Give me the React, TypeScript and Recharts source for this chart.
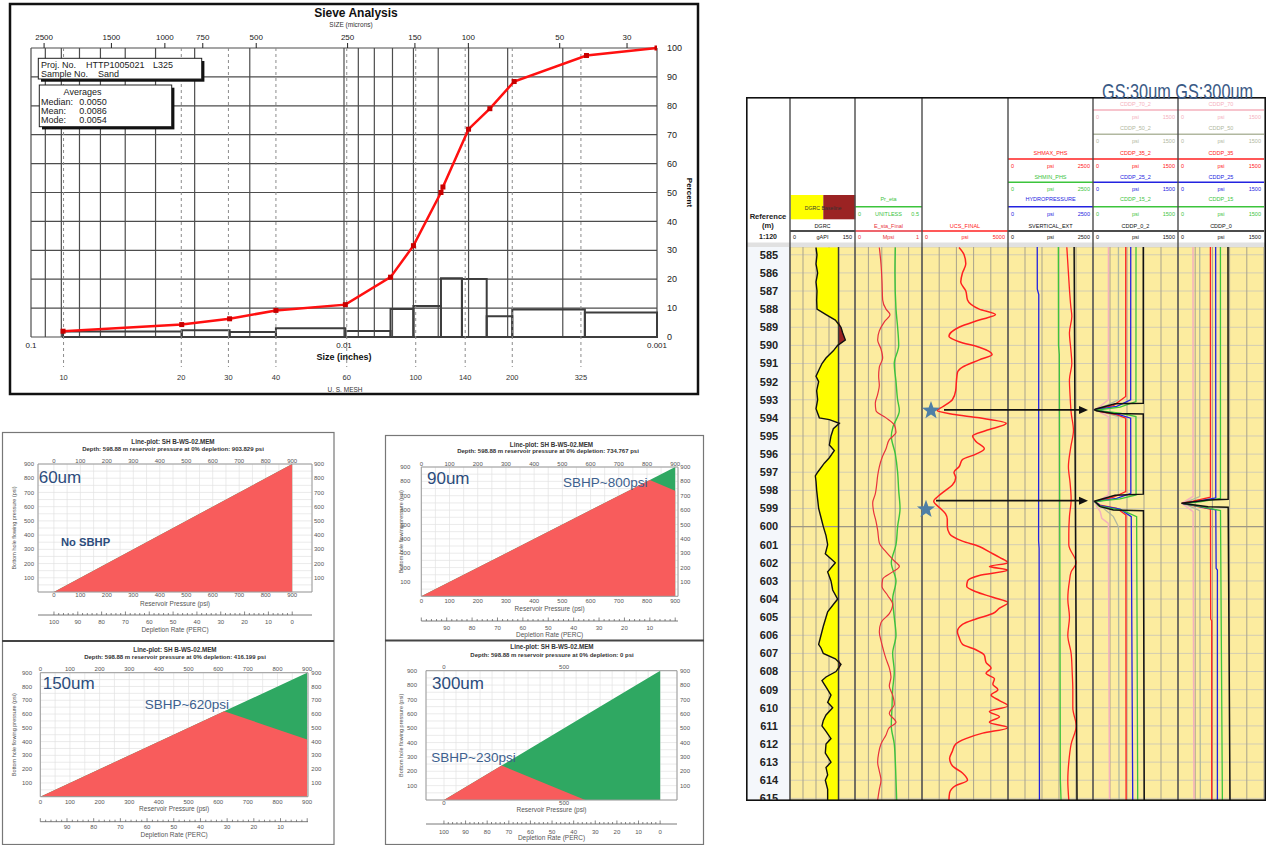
import React from 'react'
import {
  ComposedChart,
  Line,
  Area,
  XAxis,
  YAxis,
  CartesianGrid,
  ReferenceLine,
  ReferenceArea,
} from 'recharts'

const FONT = '"Liberation Sans", Arial, Helvetica, sans-serif'

// ---------------- sieve analysis ----------------
const sieveSizeIn = [0.079, 0.033, 0.0232, 0.0165, 0.0099, 0.0071, 0.006, 0.0049, 0.00483, 0.004, 0.00342, 0.00286, 0.00168, 0.001]
const sievePassing = [2.0, 4.3, 6.3, 9.2, 11.2, 20.7, 31.6, 50.0, 51.9, 71.9, 79.0, 88.4, 97.4, 100]
const retainedEdgesIn = [0.079, 0.033, 0.0232, 0.0165, 0.0099, 0.0071, 0.006, 0.0049, 0.0042, 0.0035, 0.0029, 0.0017, 0.001]
const retainedPct = [1.9, 2.3, 1.7, 3.0, 2.1, 9.7, 10.7, 20.3, 20.1, 7.2, 9.5, 8.5]
const inchGridTicks = [0.1, 0.09, 0.08, 0.07, 0.06, 0.05, 0.04, 0.03, 0.02, 0.01, 0.009, 0.008, 0.007, 0.006, 0.005, 0.004, 0.003, 0.002, 0.001]
const inchLabels = [0.1, 0.01, 0.001]
const micronDomain = [23.9, 2761]
const micronLabels = [2500, 1500, 1000, 750, 500, 250, 150, 100, 50, 30]
const meshLabels = ['10', '20', '30', '40', '60', '100', '140', '200', '325']
const meshSizeIn = [0.0787, 0.0331, 0.0234, 0.0165, 0.0098, 0.0059, 0.0041, 0.0029, 0.00175]
const percentTicks = [0, 10, 20, 30, 40, 50, 60, 70, 80, 90, 100]

// ---------------- line plots (SBHP) ----------------
const pressure60 = [0, 900]
const depletion60 = [100, 0]
const bhp60 = [0, 900]
const sand60 = [0, 900]
const pressure90 = [0, 810, 900]
const depletion90 = [100, 10, 0]
const bhp90 = [0, 810, 900]
const sand90 = [0, 810, 735]
const pressure150 = [0, 620, 900]
const depletion150 = [100, 31.1, 0]
const bhp150 = [0, 620, 900]
const sand150 = [0, 620, 416]
const pressure300 = [0, 240, 588, 900]
const depletion300 = [100, 73.3, 34.7, 0]
const bhp300 = [0, 240, 588, 900]
const sand300 = [0, 240, 0, 0]
const pressureTicks = [0, 100, 200, 300, 400, 500, 600, 700, 800, 900]
const gridTicks50 = Array.from({ length: 19 }, (_, i) => i * 50)
const depletionTicks = Array.from({ length: 51 }, (_, i) => i * 2)
const depletionAll = [0, 10, 20, 30, 40, 50, 60, 70, 80, 90, 100]
const depletionInner = [10, 20, 30, 40, 50, 60, 70, 80, 90]

// ---------------- well log ----------------
const depthTicks = Array.from({ length: 31 }, (_, i) => 585 + i)
const GR_BASE = 112
const grLog: [number, number][] = [
  [584.6, 60], [585.0, 62.3], [585.5, 60], [586.0, 63.8], [586.5, 60], [587.0, 62.3], [587.5, 61.5], [588.0, 62.3],
  [588.3, 83.1], [588.6, 104.6], [589.0, 117.7], [589.3, 121.5], [589.7, 127.7], [590.0, 110], [590.3, 100], [590.7, 83.1],
  [591.0, 73.8], [591.3, 67.7], [591.7, 60], [592.0, 66.1], [592.5, 61.5], [593.0, 63.8], [593.5, 60], [594.0, 67.7],
  [594.1, 90.8], [594.3, 113.8], [594.6, 100], [595.0, 94.6], [595.5, 90.8], [595.8, 102.3], [596.2, 90.8], [596.5, 79.2],
  [597.0, 63.8], [597.2, 58.5], [597.5, 60], [598.0, 61.5], [598.5, 63.8], [599.0, 66.1], [599.5, 71.5], [600.0, 76.9],
  [600.5, 83.1], [601.0, 86.9], [601.5, 81.5], [602.0, 104.6], [602.5, 86.9], [603.0, 94.6], [603.5, 98.5], [604.0, 110],
  [604.3, 100], [604.7, 86.9], [605.0, 83.1], [605.5, 76.9], [606.0, 71.5], [606.5, 66.1], [606.7, 71.5], [607.0, 76.9],
  [607.3, 104.6], [607.6, 117.7], [608.0, 106.2], [608.3, 83.1], [608.5, 73.8], [609.0, 86.9], [609.3, 94.6], [609.7, 86.9],
  [610.0, 98.5], [610.4, 83.1], [610.7, 76.9], [611.0, 73.8], [611.3, 83.1], [611.7, 94.6], [612.0, 83.1], [612.5, 81.5],
  [613.0, 94.6], [613.3, 83.1], [613.7, 86.9], [614.0, 81.5], [614.5, 86.9], [615.1, 86.9],
]
const eStaFinal: [number, number][] = [
  [584.6, 0.363], [585.5, 0.388], [586.5, 0.403], [587.5, 0.413], [588.0, 0.463], [588.3, 0.522], [588.7, 0.438], [589.2, 0.363],
  [589.7, 0.338], [590.2, 0.388], [590.7, 0.413], [591.2, 0.363], [591.7, 0.353], [592.2, 0.363], [592.7, 0.338], [593.2, 0.303],
  [593.6, 0.313], [594.0, 0.463], [594.4, 0.587], [594.8, 0.612], [595.2, 0.512], [595.7, 0.463], [596.2, 0.403], [596.7, 0.363],
  [597.2, 0.338], [597.7, 0.323], [598.2, 0.303], [598.7, 0.264], [599.2, 0.279], [599.7, 0.313], [600.2, 0.338], [600.9, 0.363],
  [601.4, 0.463], [601.9, 0.587], [602.2, 0.662], [602.5, 0.562], [602.9, 0.413], [603.3, 0.403], [603.8, 0.488], [604.3, 0.562],
  [604.8, 0.512], [605.3, 0.388], [605.8, 0.363], [606.3, 0.388], [606.8, 0.423], [607.3, 0.463], [607.8, 0.512], [608.3, 0.537],
  [608.8, 0.512], [609.3, 0.562], [609.8, 0.587], [610.3, 0.512], [610.8, 0.612], [611.1, 0.512], [611.5, 0.463], [612.0, 0.388],
  [612.5, 0.353], [613.0, 0.338], [613.5, 0.363], [614.0, 0.388], [614.5, 0.363], [615.1, 0.338],
]
const prEta: [number, number][] = [
  [584.6, 0.301], [586.0, 0.298], [588.0, 0.306], [589.0, 0.318], [590.0, 0.326], [591.0, 0.293], [592.0, 0.306], [593.0, 0.318],
  [593.6, 0.331], [594.5, 0.283], [595.0, 0.271], [596.0, 0.301], [597.0, 0.318], [598.0, 0.326], [599.0, 0.336], [600.0, 0.318],
  [601.0, 0.306], [602.0, 0.271], [603.0, 0.306], [604.0, 0.281], [605.0, 0.293], [606.0, 0.306], [607.0, 0.281], [608.0, 0.293],
  [609.0, 0.281], [610.0, 0.276], [611.0, 0.271], [612.0, 0.293], [613.0, 0.301], [614.0, 0.306], [615.1, 0.311],
]
const ucsFinal: [number, number][] = [
  [584.6, 2153], [585.0, 2447], [585.5, 2547], [586.0, 2353], [586.5, 2253], [587.0, 2547], [587.5, 2647], [588.0, 3329],
  [588.3, 4271], [588.6, 3329], [589.0, 2153], [589.5, 1565], [589.8, 2153], [590.1, 3329], [590.5, 4076], [590.8, 3329],
  [591.2, 2353], [591.5, 2059], [592.0, 2000], [592.5, 1959], [593.0, 1765], [593.4, 1176], [593.6, 882], [593.8, 1765],
  [594.0, 3329], [594.3, 4900], [594.7, 3724], [595.0, 2941], [595.3, 3135], [595.7, 3624], [596.0, 3135], [596.3, 2353],
  [596.7, 2153], [597.0, 1859], [597.3, 1959], [597.7, 1765], [598.0, 1371], [598.3, 976], [598.6, 682], [599.0, 1076],
  [599.3, 1371], [599.6, 1471], [600.0, 1471], [600.4, 1606], [600.8, 2353], [601.1, 3329], [601.4, 3918], [601.7, 4506],
  [602.0, 5000], [602.2, 3918], [602.4, 5000], [602.7, 3329], [603.0, 2647], [603.3, 2600], [603.6, 3135], [603.9, 4118],
  [604.2, 5000], [604.5, 4506], [604.8, 4118], [605.1, 3135], [605.4, 2353], [605.8, 2059], [606.1, 2153], [606.5, 2353],
  [606.8, 3135], [607.1, 3624], [607.5, 3724], [607.8, 4018], [608.1, 3724], [608.4, 4212], [608.7, 4118], [609.0, 4412],
  [609.3, 4018], [609.6, 4506], [609.9, 5000], [610.2, 3918], [610.5, 4506], [610.8, 3918], [611.1, 5000], [611.4, 3530],
  [611.7, 2547], [612.0, 1959], [612.4, 1765], [612.8, 1606], [613.2, 1765], [613.6, 2353], [614.0, 2647], [614.3, 1959],
  [614.7, 1606], [615.1, 1565],
]
const hydroPressure: [number, number][] = [[584.57, 860], [586.9, 862], [587.2, 905], [600.8, 900], [601.2, 915], [615.09, 925]]
const shminPhs: [number, number][] = [[584.57, 1480], [590.0, 1485], [590.5, 1510], [614.0, 1540], [615.09, 1560]]
const shmaxPhs: [number, number][] = [
  [584.58, 1730], [586.0, 1777], [586.9, 1807], [587.85, 1847], [588.4, 1877], [589.3, 1807], [590.2, 1847], [591.0, 1877],
  [591.9, 1807], [592.8, 1827], [593.7, 1857], [594.7, 1925], [595.6, 1847], [596.7, 1777], [597.6, 1827], [598.5, 1857],
  [599.45, 1807], [600.4, 1788], [601.0, 1788], [602.0, 2005], [602.5, 1857], [603.0, 1808], [604.0, 1759], [605.0, 1808],
  [606.0, 1759], [607.0, 1857], [608.0, 1887], [609.0, 1906], [610.0, 1906], [611.0, 2005], [612.0, 1857], [613.0, 1788],
  [614.0, 1759], [615.09, 1788],
]
const sVerticalExt: [number, number][] = [[584.57, 1945], [600.0, 1985], [615.09, 2030]]

const cddp70_2: [number, number][] = [[584.57, 273], [593.0, 272], [593.37, 126], [593.52, 39], [593.69, 126], [593.93, 272], [598.25, 273], [598.53, 126], [598.64, 39], [598.9, 68], [599.17, 126], [599.54, 155], [599.82, 272], [615.09, 291]]
const cddp50_2: [number, number][] = [[584.57, 449], [593.0, 448], [593.3, 250], [593.54, 39], [593.75, 250], [593.93, 448], [598.25, 448], [598.53, 185], [598.64, 39], [598.99, 185], [599.45, 360], [600.0, 448], [615.09, 460]]
const cddp35_2: [number, number][] = [[584.57, 578], [592.82, 577], [593.32, 360], [593.48, 126], [593.56, 29], [593.65, 126], [593.8, 389], [594.02, 577], [598.07, 578], [598.38, 360], [598.58, 68], [598.62, 29], [598.81, 126], [598.99, 419], [599.36, 580], [615.09, 584]]
const cddp25_2: [number, number][] = [[584.57, 666], [593.0, 665], [593.37, 419], [593.56, 30], [593.78, 419], [594.02, 665], [598.16, 668], [598.44, 419], [598.62, 30], [598.84, 126], [599.04, 478], [599.45, 675], [615.09, 701]]
const cddp15_2: [number, number][] = [[584.57, 759], [593.1, 758], [593.41, 478], [593.58, 30], [593.74, 478], [593.93, 758], [598.25, 760], [598.47, 478], [598.62, 30], [598.86, 100], [599.12, 530], [599.45, 770], [615.09, 789]]
const cddp0_2: [number, number][] = [[584.57, 887], [593.19, 887], [593.22, 389], [593.52, 40], [593.56, 28], [593.61, 60], [593.76, 360], [593.78, 887], [598.21, 888], [598.27, 389], [598.6, 28], [598.9, 126], [599.08, 360], [599.12, 890], [615.09, 904]]

const cddp70: [number, number][] = [[584.57, 262], [598.34, 263], [598.56, 146], [598.71, 70], [598.9, 146], [599.17, 263], [615.09, 279]]
const cddp50: [number, number][] = [[584.57, 379], [598.34, 379], [598.71, 88], [599.12, 379], [615.09, 390]]
const cddp35: [number, number][] = [[584.57, 565], [598.38, 566], [598.6, 263], [598.71, 70], [598.84, 263], [599.04, 566], [605.1, 570], [605.2, 588], [615.09, 588]]
const cddp25: [number, number][] = [[584.57, 657], [598.42, 659], [598.62, 321], [598.73, 88], [598.86, 321], [599.08, 659], [602.3, 665], [602.4, 687], [615.09, 687]]
const cddp15: [number, number][] = [[584.57, 740], [598.45, 741], [598.64, 379], [598.73, 100], [598.88, 379], [599.12, 741], [615.09, 774]]
const cddp0: [number, number][] = [[584.57, 872], [598.49, 875], [598.53, 525], [598.71, 59], [598.9, 525], [598.93, 875], [615.09, 907]]

const COL = { red: '#ff2020', green: '#3cc43c', blue: '#2323e0', black: '#111111', pink: '#f5b1bd', gray: '#b1b8a0' }

const LOG_D0 = 584.57
const LOG_D1 = 615.09
const LOG_TOP = 247
const LOG_H = 553
const depthToY = (d: number) => LOG_TOP + ((d - LOG_D0) / (LOG_D1 - LOG_D0)) * LOG_H

const toPts = (a: [number, number][]) => a.map(([d, v]) => ({ d, v }))

// ---------------- helpers ----------------
function SquareDot(p: any) {
  if (p.cx == null || p.cy == null) return <g key={p.key} />
  return <rect key={p.key} x={p.cx - 2.5} y={p.cy - 2.5} width={5} height={5} fill="#c80000" />
}

function MeshLine(p: any) {
  const top = Math.min(p.y1, p.y2)
  const bot = Math.max(p.y1, p.y2)
  return <line x1={p.x1} x2={p.x2} y1={top} y2={bot + 30} stroke="#8c8c8c" strokeWidth={1} strokeDasharray="3 3" />
}

function T(props: any) {
  const { x, y, s = 6, c = '#222', w = 400, a = 'middle', children } = props
  return (
    <text x={x} y={y} fontSize={s} fill={c} fontWeight={w} textAnchor={a} dominantBaseline="central" fontFamily={FONT}>
      {children}
    </text>
  )
}

function SieveChart() {
  const data = sieveSizeIn.map((s, i) => ({ size: s, micron: s * 25400, pass: sievePassing[i] }))
  return (
    <div style={{ position: 'absolute', left: 10, top: 4 }}>
      <ComposedChart width={688} height={390} data={data} margin={{ top: 30, right: 0, bottom: 37, left: 21 }}>
        <CartesianGrid xAxisId="b" yAxisId="p" stroke="#4d4d4d" strokeWidth={1.2} />
        <XAxis
          xAxisId="b"
          dataKey="size"
          type="number"
          scale="log"
          domain={[0.001, 0.1]}
          reversed
          allowDataOverflow
          ticks={inchGridTicks}
          interval={0}
          tickFormatter={(v: number) => (inchLabels.includes(v) ? String(v) : '')}
          tickLine={false}
          tickSize={0}
          axisLine={false}
          height={20}
          tickMargin={5}
          tick={{ fontSize: 8, fill: '#222', fontFamily: FONT }}
          label={{ value: 'Size (inches)', position: 'bottom', offset: -3, fontSize: 9, fontWeight: 700, fill: '#111' }}
        />
        <XAxis
          xAxisId="t"
          orientation="top"
          dataKey="micron"
          type="number"
          scale="log"
          domain={micronDomain}
          reversed
          allowDataOverflow
          ticks={micronLabels}
          interval={0}
          tickSize={5}
          tickMargin={3}
          height={14}
          axisLine={false}
          tickLine={{ stroke: '#222' }}
          tick={{ fontSize: 8, fill: '#222', fontFamily: FONT }}
        />
        <YAxis
          yAxisId="p"
          orientation="right"
          type="number"
          domain={[0, 100]}
          ticks={percentTicks}
          interval={0}
          width={41}
          tickLine={false}
          tickSize={0}
          axisLine={false}
          tickMargin={10}
          tick={{ fontSize: 9, fill: '#222', fontFamily: FONT }}
          label={{ value: 'Percent', angle: 90, position: 'center', dx: 12, fontSize: 8, fontWeight: 700, fill: '#111' }}
        />
        {meshSizeIn.map((m, i) => (
          <ReferenceLine
            key={'mesh' + i}
            xAxisId="b"
            yAxisId="p"
            x={m}
            stroke="#8c8c8c"
            strokeDasharray="3 3"
            shape={MeshLine}
            label={{ value: meshLabels[i], position: 'bottom', offset: 38, fontSize: 7.5, fill: '#333' }}
          />
        ))}
        {retainedPct.map((h, i) => (
          <ReferenceArea
            key={'bin' + i}
            xAxisId="b"
            yAxisId="p"
            x1={retainedEdgesIn[i]}
            x2={retainedEdgesIn[i + 1]}
            y1={0}
            y2={h}
            fill="none"
            fillOpacity={0}
            stroke="#3d3d3d"
            strokeWidth={2}
            ifOverflow="visible"
          />
        ))}
        <Line
          xAxisId="b"
          yAxisId="p"
          dataKey="pass"
          type="linear"
          stroke="#ff1010"
          strokeWidth={2.5}
          dot={SquareDot}
          activeDot={false}
          isAnimationActive={false}
        />
      </ComposedChart>
    </div>
  )
}

function DepTick(props: any) {
  const { x, y, payload, labels, labelDy } = props
  const v = payload.value as number
  const major = v % 10 === 0
  return (
    <g>
      <line x1={x} x2={x} y1={y} y2={y - (major ? 3.5 : 2)} stroke="#555" strokeWidth={0.7} />
      {major && labels.includes(v) ? (
        <text x={x} y={y + labelDy} textAnchor="middle" dominantBaseline="central" fontSize={6} fill="#555" fontFamily={FONT}>
          {v}
        </text>
      ) : null}
    </g>
  )
}

function LinePlot({ s }: { s: any }) {
  const rows = s.pressure.map((p: number, i: number) => ({ p, dep: s.depletion[i], bhp: s.bhp[i], sand: s.sand[i] }))
  const fmtP = (v: number) => (s.pLabels.includes(v) ? String(v) : '')
  const fmtY = (v: number) => (v > 0 && v % 100 === 0 ? String(v) : '')
  const tickStyle = { fontSize: 6, fill: '#555', fontFamily: FONT }
  return (
    <div style={{ position: 'absolute', left: s.left, top: s.top }}>
      <ComposedChart width={s.width} height={s.height} data={rows} margin={s.margin}>
        <CartesianGrid xAxisId="a" yAxisId="l" stroke="#e2e2e2" strokeWidth={0.7} />
        <XAxis
          xAxisId="z"
          dataKey="dep"
          type="number"
          domain={s.depDomain}
          reversed
          allowDataOverflow
          ticks={depletionTicks}
          interval={0}
          tickLine={false}
          tickSize={0}
          tickMargin={0}
          axisLine={{ stroke: '#555', strokeWidth: 0.8 }}
          height={s.depAxisH}
          tick={<DepTick labels={s.depLabels} labelDy={s.depDy} />}
          label={{ value: 'Depletion Rate (PERC)', position: 'insideBottom', offset: s.depTitleOff, fontSize: 6.5, fill: '#555' }}
        />
        <XAxis
          xAxisId="a"
          dataKey="p"
          type="number"
          domain={s.xDomain}
          allowDataOverflow
          ticks={gridTicks50}
          interval={0}
          tickFormatter={fmtP}
          tickLine={false}
          tickSize={0}
          axisLine={false}
          height={s.pAxisH}
          tickMargin={s.botM}
          tick={tickStyle}
          label={{ value: 'Reservoir Pressure (psi)', position: 'insideBottom', offset: s.pTitleOff, fontSize: 6.5, fill: '#555' }}
        />
        <XAxis
          xAxisId="pt"
          orientation="top"
          dataKey="p"
          type="number"
          domain={s.xDomain}
          allowDataOverflow
          ticks={s.pLabels}
          interval={0}
          tickLine={false}
          tickSize={0}
          axisLine={false}
          height={10}
          tickMargin={1.5}
          tick={tickStyle}
        />
        <YAxis
          yAxisId="l"
          type="number"
          domain={[0, 900]}
          allowDataOverflow
          ticks={gridTicks50}
          interval={0}
          tickFormatter={fmtY}
          width={24}
          tickLine={false}
          tickSize={0}
          axisLine={false}
          tickMargin={s.lm}
          tick={tickStyle}
          label={{ value: 'Bottom hole flowing pressure (psi)', angle: -90, position: 'center', dx: s.ytDx, fontSize: 5.5, fill: '#555' }}
        />
        <YAxis
          yAxisId="r"
          orientation="right"
          type="number"
          domain={[0, 900]}
          allowDataOverflow
          ticks={pressureTicks.slice(1)}
          interval={0}
          width={20}
          tickLine={false}
          tickSize={0}
          axisLine={false}
          tickMargin={s.rm}
          tick={tickStyle}
        />
        <Area xAxisId="a" yAxisId="l" dataKey="bhp" type="linear" baseValue={0} fill="#2fa862" fillOpacity={1} stroke="none" isAnimationActive={false} />
        <Area xAxisId="a" yAxisId="l" dataKey="sand" type="linear" baseValue={0} fill="#f85c5c" fillOpacity={1} stroke="none" isAnimationActive={false} />
        <ReferenceArea xAxisId="a" yAxisId="l" x1={s.xDomain[0]} x2={s.xDomain[1]} y1={0} y2={900} fill="none" fillOpacity={0} stroke="#9a9a9a" strokeWidth={1} />
      </ComposedChart>
    </div>
  )
}

const lpA = {
  left: 2, top: 452, width: 334, height: 186, margin: { top: 2, right: 4, bottom: 0, left: 12 },
  xDomain: [-60, 975], depDomain: [-8.3, 106.7], pLabels: pressureTicks, depLabels: depletionAll,
  lm: 4, rm: 2, ytDx: -12.3, botM: 1, pAxisH: 23, depAxisH: 23, pTitleOff: 9.3, depTitleOff: 6, depDy: 7,
  pressure: pressure60, depletion: depletion60, bhp: bhp60, sand: sand60,
}
const lpB = {
  left: 386, top: 455, width: 316, height: 184, margin: { top: 2, right: 4, bottom: 0, left: 11.3 },
  xDomain: [0, 910], depDomain: [-1.1, 100], pLabels: pressureTicks, depLabels: depletionInner,
  lm: 11, rm: 2.3, ytDx: -8, botM: 2, pAxisH: 24.7, depAxisH: 18, pTitleOff: 10, depTitleOff: 2, depDy: 6.7,
  pressure: pressure90, depletion: depletion90, bhp: bhp90, sand: sand90,
}
const lpC = {
  left: 2, top: 660, width: 334, height: 183, margin: { top: 2.7, right: 8, bottom: 0, left: 14.3 },
  xDomain: [0, 903], depDomain: [-0.3, 100], pLabels: pressureTicks, depLabels: depletionInner,
  lm: 8.3, rm: 3.3, ytDx: -14.6, botM: 3, pAxisH: 25, depAxisH: 21.3, pTitleOff: 10.4, depTitleOff: 6, depDy: 5,
  pressure: pressure150, depletion: depletion150, bhp: bhp150, sand: sand150,
}
const lpD = {
  left: 386, top: 658, width: 316, height: 186, margin: { top: 2.7, right: 5, bottom: 0, left: 16 },
  xDomain: [-75, 970], depDomain: [-7.8, 108.3], pLabels: [0, 500], depLabels: depletionAll,
  lm: 9, rm: 3, ytDx: -12.7, botM: 1, pAxisH: 24, depAxisH: 20, pTitleOff: 11.7, depTitleOff: 3.7, depDy: 7.7,
  pressure: pressure300, depletion: depletion300, bhp: bhp300, sand: sand300,
}

type Curve = { pts: [number, number][]; color: string; w?: number; smooth?: boolean; axis?: string }

function Track(props: { x0: number; x1: number; domain: [number, number]; grid: number[]; curves: Curve[]; alt?: [number, number]; gr?: boolean }) {
  const { x0, x1, domain, grid, curves, alt, gr } = props
  const left = gr ? 747 : x0
  const width = x1 - left
  const grPts = toPts(grLog)
  return (
    <div style={{ position: 'absolute', left, top: LOG_TOP, width, height: LOG_H, background: gr ? '#f4f7fb' : undefined }}>
      <ComposedChart layout="vertical" width={width} height={LOG_H} margin={{ top: 0, right: 0, bottom: 0, left: 0 }}>
        <CartesianGrid vertical={false} fill="#fcec9f" fillOpacity={1} stroke="#d3cdb3" strokeWidth={1} />
        <CartesianGrid horizontal={false} stroke="#a9a38c" strokeWidth={1} />
        <XAxis type="number" domain={domain} ticks={grid} interval={0} hide allowDataOverflow />
        {alt ? <XAxis xAxisId="alt" type="number" domain={alt} hide allowDataOverflow /> : null}
        <YAxis
          type="number"
          dataKey="d"
          domain={[LOG_D0, LOG_D1]}
          ticks={depthTicks}
          interval={0}
          allowDataOverflow
          hide={!gr}
          width={43}
          tickLine={false}
          axisLine={false}
          tickSize={0}
          tickMargin={21}
          tick={{ fontSize: 11, fontWeight: 700, fill: '#222', textAnchor: 'middle', fontFamily: FONT }}
        />
        <ReferenceLine y={600} stroke="#9e9884" strokeWidth={1.2} />
        {gr ? (
          <Area data={grPts} dataKey={(r: any) => Math.min(r.v, GR_BASE)} baseValue={GR_BASE} type="linear" fill="#ffff00" fillOpacity={1} stroke="none" isAnimationActive={false} />
        ) : null}
        {gr ? (
          <Area data={grPts} dataKey={(r: any) => Math.max(r.v, GR_BASE)} baseValue={GR_BASE} type="linear" fill="#992222" fillOpacity={1} stroke="none" isAnimationActive={false} />
        ) : null}
        {gr ? <ReferenceLine x={GR_BASE} stroke="#3a3a3a" strokeWidth={1.5} /> : null}
        {curves.map((c, i) => (
          <Line
            key={i}
            xAxisId={c.axis ?? 0}
            data={toPts(c.pts)}
            dataKey="v"
            type={c.smooth ? 'monotone' : 'linear'}
            stroke={c.color}
            strokeWidth={c.w ?? 1.3}
            dot={false}
            activeDot={false}
            isAnimationActive={false}
          />
        ))}
      </ComposedChart>
    </div>
  )
}

const HEAD_ROWS = [
  [104, 110, 116.7],
  [128.3, 134.3, 141],
  [152.7, 159, 166],
  [176.7, 182.3, 188.7],
  [199.3, 206.7, 214],
  [225.7, 231, 236.7],
]

function CurveHead({ x0, x1, row, name, color, unit, max }: any) {
  const [ny, ly, sy] = HEAD_ROWS[row]
  const cx = (x0 + x1) / 2
  return (
    <g>
      <T x={cx} y={ny} s={5.5} c={color}>{name}</T>
      <line x1={x0} x2={x1} y1={ly} y2={ly} stroke={color} strokeWidth={1.6} />
      <T x={x0 + 3} y={sy} s={5.5} c={color} a="start">0</T>
      <T x={cx} y={sy} s={5.5} c={color}>{unit}</T>
      <T x={x1 - 3} y={sy} s={5.5} c={color} a="end">{max}</T>
    </g>
  )
}

function starPoints(cx: number, cy: number, r: number) {
  const pts: string[] = []
  for (let i = 0; i < 10; i++) {
    const rr = i % 2 === 0 ? r : r * 0.42
    const a = -Math.PI / 2 + (i * Math.PI) / 5
    pts.push(`${cx + rr * Math.cos(a)},${cy + rr * Math.sin(a)}`)
  }
  return pts.join(' ')
}

const trackX = [790, 855, 922, 1008, 1093, 1178, 1264]
const cddpNames = ['CDDP_70', 'CDDP_50', 'CDDP_35', 'CDDP_25', 'CDDP_15', 'CDDP_0']
const cddpColors = [COL.pink, COL.gray, COL.red, COL.blue, COL.green, COL.black]
const stars = [{ d: 593.6, x: 931 }, { d: 599.05, x: 926 }]
const arrows = [{ d: 593.56, x0: 944, x1: 1088 }, { d: 598.57, x0: 936, x1: 1088 }]

function Overlay() {
  const depthLine = (v: string) => `Depth: 598.88 m reservoir pressure at 0% depletion: ${v} psi`
  const um = { s: 17, c: '#2c4c7c', a: 'start' }
  const sb = { s: 13.5, c: '#3d5f8e', a: 'start' }
  return (
    <svg width={1266} height={845} style={{ position: 'absolute', left: 0, top: 0, pointerEvents: 'none' }}>
      {/* sieve frame and texts */}
      <rect x={10} y={4} width={688} height={390} fill="none" stroke="#111" strokeWidth={2.5} />
      <T x={356} y={13} s={12} w={700} c="#111">Sieve Analysis</T>
      <T x={351} y={24.5} s={6.5} c="#333">SIZE (microns)</T>
      <T x={345} y={389} s={6.5} c="#333">U. S. MESH</T>
      <rect x={41} y={61} width={163.4} height={20.7} fill="#111" />
      <rect x={38.3} y={58.3} width={163.4} height={20.7} fill="#fff" stroke="#222" strokeWidth={1} />
      <T x={41} y={65} s={9} a="start">Proj. No.</T>
      <T x={86} y={65} s={9} a="start">HTTP1005021</T>
      <T x={153} y={65} s={9} a="start">L325</T>
      <T x={41} y={74.3} s={9} a="start">Sample No.</T>
      <T x={98} y={74.3} s={9} a="start">Sand</T>
      <rect x={42} y={87.7} width={132.4} height={41.7} fill="#111" />
      <rect x={39.3} y={85} width={132.4} height={41.7} fill="#fff" stroke="#222" strokeWidth={1} />
      <T x={82.5} y={91.5} s={9}>Averages</T>
      <T x={41} y={101.7} s={9} a="start">Median:</T>
      <T x={79.3} y={101.7} s={9} a="start">0.0050</T>
      <T x={41} y={111} s={9} a="start">Mean:</T>
      <T x={79.3} y={111} s={9} a="start">0.0086</T>
      <T x={41} y={120.2} s={9} a="start">Mode:</T>
      <T x={79.3} y={120.2} s={9} a="start">0.0054</T>

      {/* line-plot frames */}
      <rect x={2.5} y={432.5} width={331.5} height={412} fill="none" stroke="#777" strokeWidth={1.2} />
      <line x1={2} x2={334} y1={641} y2={641} stroke="#444" strokeWidth={2} />
      <rect x={385.5} y={435.5} width={318} height={409} fill="none" stroke="#777" strokeWidth={1.2} />
      <line x1={385} x2={704} y1={640.5} y2={640.5} stroke="#444" strokeWidth={2} />

      <T x={173} y={441} s={6.3} w={700} c="#333">Line-plot: SH B-WS-02.MEM</T>
      <T x={173} y={449} s={6} w={700} c="#333">{depthLine('903.829')}</T>
      <T x={38.7} y={477} {...um}>60um</T>
      <T x={61} y={542} s={11.2} w={700} c="#2c4c7c" a="start">No SBHP</T>

      <T x={551.5} y={444.7} s={6.3} w={700} c="#333">Line-plot: SH B-WS-02.MEM</T>
      <T x={548} y={451.3} s={6} w={700} c="#333">{depthLine('734.767')}</T>
      <T x={427} y={478.7} {...um}>90um</T>
      <T x={563} y={482.7} {...sb}>SBHP~800psi</T>

      <T x={175} y={649.3} s={6.3} w={700} c="#333">Line-plot: SH B-WS-02.MEM</T>
      <T x={175} y={656.7} s={6} w={700} c="#333">{depthLine('416.199')}</T>
      <T x={42.7} y={683.3} {...um}>150um</T>
      <T x={144.7} y={704.3} {...sb}>SBHP~620psi</T>

      <T x={552} y={646.7} s={6.3} w={700} c="#333">Line-plot: SH B-WS-02.MEM</T>
      <T x={552} y={655} s={6} w={700} c="#333">{depthLine('0')}</T>
      <T x={432} y={683.3} {...um}>300um</T>
      <T x={431.3} y={757.3} {...sb}>SBHP~230psi</T>

      {/* well log header */}
      <rect x={746.5} y={242.5} width={519} height={4.5} fill="#e1e1e1" />
      <T x={768} y={216.7} s={7.6} w={700}>Reference</T>
      <T x={768} y={225.5} s={7.6} w={700}>(m)</T>
      <T x={768} y={236} s={7} w={700}>1:120</T>
      <rect x={790.7} y={195} width={32.6} height={24.3} fill="#ffff00" />
      <rect x={823.3} y={195} width={32} height={24.3} fill="#9b2323" />
      <T x={823} y={207.5} s={5.2} c="#333">DGRC Baseline</T>
      <CurveHead x0={790} x1={855} row={5} name="DGRC" color={COL.black} unit="gAPI" max="150" />
      <CurveHead x0={855} x1={922} row={4} name="Pr_eta" color={COL.green} unit="UNITLESS" max="0.5" />
      <CurveHead x0={855} x1={922} row={5} name="E_sta_Final" color="#e8323c" unit="Mpsi" max="1" />
      <CurveHead x0={922} x1={1008} row={5} name="UCS_FINAL" color={COL.red} unit="psi" max="5000" />
      <CurveHead x0={1008} x1={1093} row={2} name="SHMAX_PHS" color={COL.red} unit="psi" max="2500" />
      <CurveHead x0={1008} x1={1093} row={3} name="SHMIN_PHS" color={COL.green} unit="psi" max="2500" />
      <CurveHead x0={1008} x1={1093} row={4} name="HYDROPRESSURE" color={COL.blue} unit="psi" max="2500" />
      <CurveHead x0={1008} x1={1093} row={5} name="SVERTICAL_EXT" color={COL.black} unit="psi" max="2500" />
      {cddpNames.map((n, i) => (
        <CurveHead key={'a' + n} x0={1093} x1={1178} row={i} name={n + '_2'} color={cddpColors[i]} unit="psi" max="1500" />
      ))}
      {cddpNames.map((n, i) => (
        <CurveHead key={'b' + n} x0={1178} x1={1264} row={i} name={n} color={cddpColors[i]} unit="psi" max="1500" />
      ))}
      {trackX.slice(0, 6).map((x) => (
        <line key={'sep' + x} x1={x} x2={x} y1={98} y2={800} stroke="#4a4a4a" strokeWidth={1.4} />
      ))}
      <rect x={746.8} y={97.8} width={518.4} height={702.4} fill="none" stroke="#111" strokeWidth={1.6} />
      <text transform="translate(1102,99) scale(0.74,1)" fontSize={22} fill="#3a5a86" fontFamily={FONT}>
        GS:30um GS:300um
      </text>

      {/* arrows and stars */}
      {arrows.map((a, i) => {
        const y = depthToY(a.d)
        return (
          <g key={'arr' + i}>
            <line x1={a.x0} x2={a.x1 - 7} y1={y} y2={y} stroke="#111" strokeWidth={1.8} />
            <polygon points={`${a.x1},${y} ${a.x1 - 9},${y - 4} ${a.x1 - 9},${y + 4}`} fill="#111" />
          </g>
        )
      })}
      {stars.map((s, i) => (
        <polygon key={'star' + i} points={starPoints(s.x, depthToY(s.d), 9.5)} fill="#4f7fa6" />
      ))}
    </svg>
  )
}

export default function App() {
  return (
    <div style={{ position: 'absolute', left: 0, top: 0, width: 1266, height: 845, background: '#fff', overflow: 'hidden', fontFamily: FONT }}>
      <SieveChart />
      <LinePlot s={lpA} />
      <LinePlot s={lpB} />
      <LinePlot s={lpC} />
      <LinePlot s={lpD} />
      <div style={{ position: 'absolute', left: 747, top: 98, width: 517, height: 145, background: '#fff' }} />
      <Track x0={790} x1={855} domain={[0, 150]} grid={[30, 60, 90]} gr curves={[{ pts: grLog, color: '#111', w: 1.4 }]} />
      <Track
        x0={855}
        x1={922}
        domain={[0, 1]}
        grid={[0.2, 0.4, 0.6, 0.8]}
        alt={[0, 0.5]}
        curves={[
          { pts: prEta, color: COL.green, w: 1.4, smooth: true, axis: 'alt' },
          { pts: eStaFinal, color: '#e8323c', w: 1.2, smooth: true },
        ]}
      />
      <Track x0={922} x1={1008} domain={[0, 5000]} grid={[1000, 2000, 3000, 4000]} curves={[{ pts: ucsFinal, color: COL.red, w: 1.5, smooth: true }]} />
      <Track
        x0={1008}
        x1={1093}
        domain={[0, 2500]}
        grid={[500, 1000, 1500, 2000]}
        curves={[
          { pts: hydroPressure, color: COL.blue },
          { pts: shminPhs, color: COL.green },
          { pts: shmaxPhs, color: COL.red, smooth: true },
          { pts: sVerticalExt, color: COL.black, w: 1.5 },
        ]}
      />
      <Track
        x0={1093}
        x1={1178}
        domain={[0, 1500]}
        grid={[300, 600, 900, 1200]}
        curves={[
          { pts: cddp70_2, color: COL.pink, w: 1.5 },
          { pts: cddp50_2, color: COL.gray },
          { pts: cddp35_2, color: COL.red },
          { pts: cddp25_2, color: COL.blue },
          { pts: cddp15_2, color: COL.green },
          { pts: cddp0_2, color: COL.black, w: 1.5 },
        ]}
      />
      <Track
        x0={1178}
        x1={1264}
        domain={[0, 1500]}
        grid={[300, 600, 900, 1200]}
        curves={[
          { pts: cddp70, color: COL.pink, w: 1.5 },
          { pts: cddp50, color: COL.gray },
          { pts: cddp35, color: COL.red },
          { pts: cddp25, color: COL.blue },
          { pts: cddp15, color: COL.green },
          { pts: cddp0, color: COL.black, w: 1.5 },
        ]}
      />
      <Overlay />
    </div>
  )
}
